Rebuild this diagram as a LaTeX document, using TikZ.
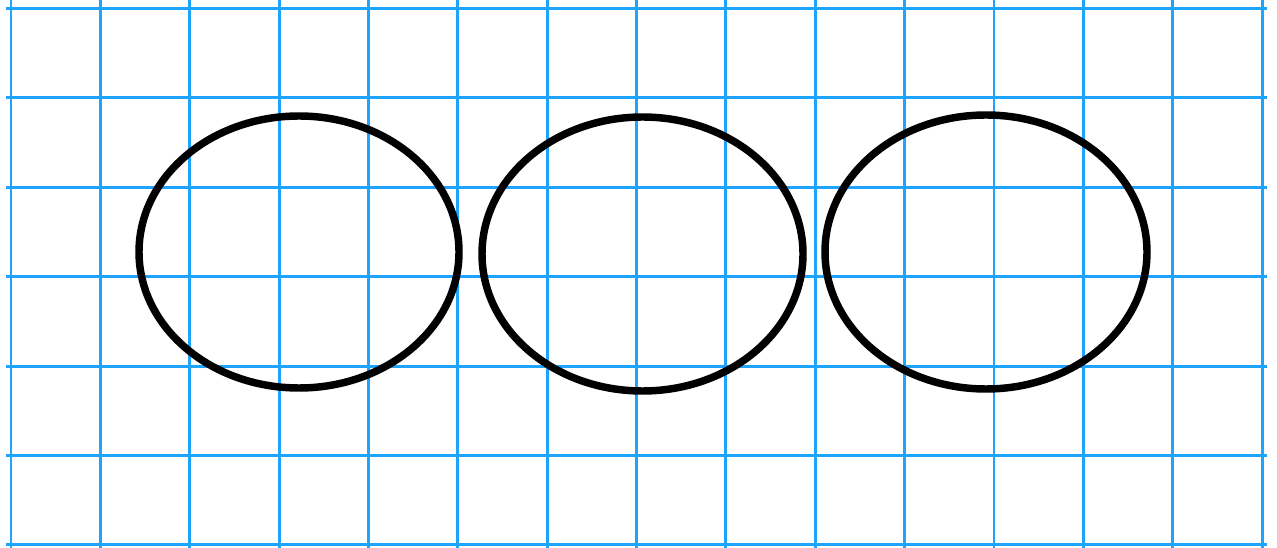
\documentclass[tikz,border=0pt]{standalone}
\usepackage{tikz}
\definecolor{gridblue}{RGB}{30,163,255}
\tikzset{
  gridline/.style={draw=gridblue, line width=2.2pt},
  loop/.style={draw=black, line width=5.6pt}
}
\begin{document}
\begin{tikzpicture}[x=0.75pt,y=-0.75pt]
\useasboundingbox[fill=white] (0,0) rectangle (1277,548);
\foreach \i in {0,...,14} {
  \draw[gridline] ({11+\i*89.36},0) -- ({11+\i*89.36},548);
}
\foreach \j in {0,...,6} {
  \draw[gridline] (6,{8.5+\j*89.4}) -- (1267,{8.5+\j*89.4});
}
\draw[loop] (299,252) ellipse [x radius=160, y radius=136];
\draw[loop] (642.5,254) ellipse [x radius=160.5, y radius=137];
\draw[loop] (986,252) ellipse [x radius=161, y radius=137];
\end{tikzpicture}
\end{document}
